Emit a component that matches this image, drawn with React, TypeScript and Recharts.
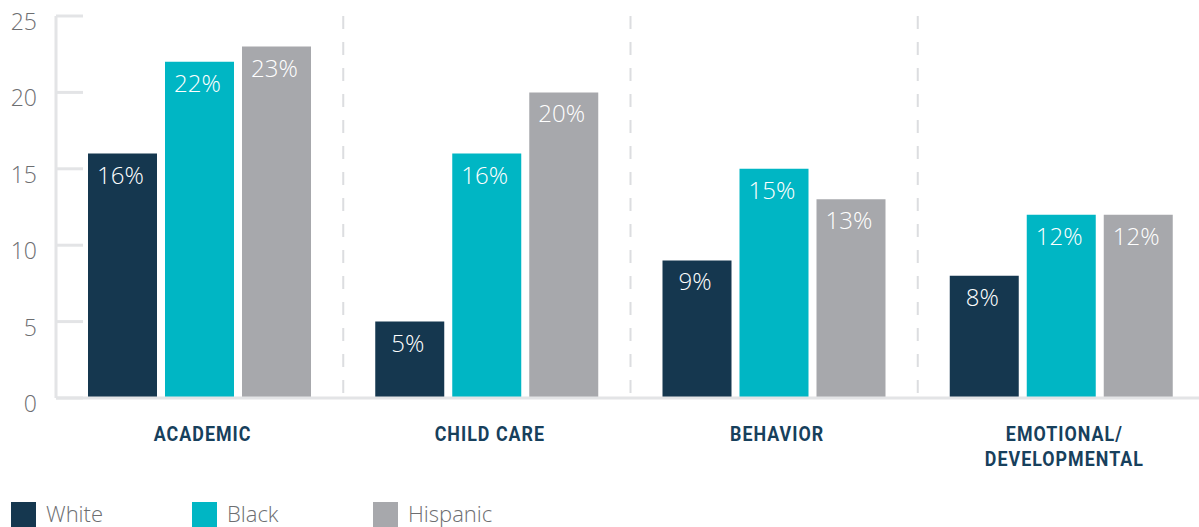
import React from "react";
import {
  BarChart,
  Bar,
  XAxis,
  YAxis,
  CartesianGrid,
  Legend,
  LabelList,
} from "recharts";

const categories = ["ACADEMIC", "CHILD CARE", "BEHAVIOR", "EMOTIONAL/\nDEVELOPMENTAL"];
const white = [16, 5, 9, 8];
const black = [22, 16, 15, 12];
const hispanic = [23, 20, 13, 12];
const yTicks = [0, 5, 10, 15, 20, 25];

const series = [
  { key: "white", name: "White", color: "#15374f" },
  { key: "black", name: "Black", color: "#00b6c4" },
  { key: "hispanic", name: "Hispanic", color: "#a7a8ac" },
];

const data = categories.map((name, i) => ({
  name,
  white: white[i],
  black: black[i],
  hispanic: hispanic[i],
}));

const FONT = "'Open Sans', sans-serif";
const GRAY_LINE = "#e3e4e6";

const YTick = (props: any) => {
  const { x, y, payload } = props;
  return (
    <g>
      <line x1={x + 19} x2={x + 46} y1={y} y2={y} stroke={GRAY_LINE} strokeWidth={3} />
      <text
        x={x}
        y={y}
        dy={14}
        textAnchor="end"
        fill="#6d6e71"
        fontSize={23}
        fontFamily={FONT}
        fontWeight={300}
      >
        {payload.value}
      </text>
    </g>
  );
};

// category labels: bold, condensed look (squeezed horizontally around the tick centre)
const XTick = (props: any) => {
  const { x, y, payload } = props;
  const lines = String(payload.value).split("\n");
  return (
    <g transform={`translate(${x + 3},${y}) scale(0.85,1)`}>
      <text
        x={0}
        y={0}
        textAnchor="middle"
        fill="#17405c"
        fontSize={21}
        fontWeight={700}
        letterSpacing={1.2}
        fontFamily="Roboto, sans-serif"
      >
        {lines.map((l, i) => (
          <tspan key={i} x={0} dy={i === 0 ? 35 : 25}>
            {l}
          </tspan>
        ))}
      </text>
    </g>
  );
};

const BarLabel = (props: any) => {
  const { x, y, width, value } = props;
  return (
    <text
      x={x + width / 2 - 2}
      y={y + 30}
      textAnchor="middle"
      fill="#ffffff"
      fontSize={24}
      fontWeight={300}
      fontFamily={FONT}
    >
      {value}%
    </text>
  );
};

const LegendContent = () => (
  <div style={{ display: "flex", paddingLeft: 11, paddingTop: 2, height: 27 }}>
    {series.map((s) => (
      <div
        key={s.key}
        style={{ display: "flex", alignItems: "flex-start", width: 181 }}
      >
        <div style={{ width: 25, height: 25, background: s.color }} />
        <span
          style={{
            marginLeft: 10,
            fontSize: 22,
            fontFamily: FONT,
            fontWeight: 300,
            color: "#6d6e71",
            lineHeight: "25px",
            marginTop: -1,
          }}
        >
          {s.name}
        </span>
      </div>
    ))}
  </div>
);

export default function App() {
  return (
    <div
      style={{
        position: "absolute",
        left: 0,
        top: 0,
        width: 1199,
        height: 527,
        overflow: "hidden",
        background: "#fff",
      }}
    >
      <BarChart
        width={1206}
        height={527}
        data={data}
        margin={{ top: 16, right: 1, bottom: 0, left: 0 }}
        barSize={69}
        barGap={8}
      >
        <CartesianGrid
          horizontal={false}
          stroke="#dcdde0"
          strokeWidth={2}
          strokeDasharray="13 13"
          verticalCoordinatesGenerator={(p: any) =>
            [1, 2, 3].map((i) => p.offset.left + (p.offset.width * i) / categories.length)
          }
        />
        <XAxis
          dataKey="name"
          height={102}
          tickLine={false}
          tickSize={8}
          tickMargin={0}
          interval={0}
          axisLine={{ stroke: GRAY_LINE, strokeWidth: 3 }}
          tick={<XTick />}
        />
        <YAxis
          width={56}
          domain={[0, 25]}
          ticks={yTicks}
          interval={0}
          tickLine={false}
          tickSize={19}
          tickMargin={0}
          axisLine={{ stroke: GRAY_LINE, strokeWidth: 3 }}
          tick={<YTick />}
        />
        <Legend
          verticalAlign="bottom"
          align="left"
          height={27}
          content={<LegendContent />}
        />
        {series.map((s) => (
          <Bar
            key={s.key}
            dataKey={s.key}
            name={s.name}
            fill={s.color}
            isAnimationActive={false}
          >
            <LabelList dataKey={s.key} content={<BarLabel />} />
          </Bar>
        ))}
      </BarChart>
    </div>
  );
}
